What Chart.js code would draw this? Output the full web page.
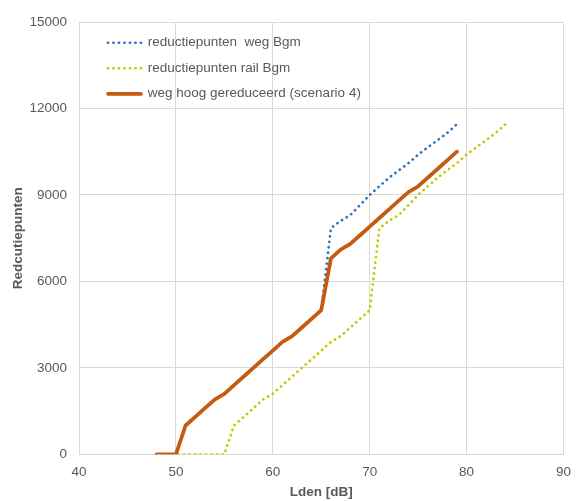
<!DOCTYPE html>
<html lang="nl">
<head>
  <meta charset="utf-8" />
  <title>Reductiepunten</title>
  <style>
    body { margin: 0; background: #fff; }
    #wrap { width: 581px; height: 501px; }
  </style>
  <script src="https://cdn.jsdelivr.net/npm/chart.js@4"></script>
</head>
<body>
  <div id="wrap"><canvas id="chart" width="581" height="501"></canvas></div>
  <script>
    // Lden [dB] waarden per reeks
    const wegLden = [48, 49, 50, 51, 52, 53, 54, 55, 56, 57, 58, 59, 60, 61, 62, 63,
                     64, 65, 66, 67, 68, 69, 70, 71, 72, 73, 74, 75, 76, 77, 78, 79];
    const railLden = [48, 49, 50, 51, 52, 53, 54, 55, 56, 57, 58, 59, 60, 61, 62, 63,
                      64, 65, 66, 67, 68, 69, 70, 71, 72, 73, 74, 75, 76, 77, 78, 79,
                      80, 81, 82, 83, 84];

    // reductiepunten
    const wegBgm = [0, 0, 0, 1000, 1300, 1600, 1900, 2100, 2400, 2700, 3000, 3300, 3600, 3900, 4100, 4400,
                    4700, 5000, 7850, 8100, 8300, 8650, 9000, 9300, 9600, 9850, 10100, 10400, 10650, 10900, 11150, 11450];
    const railBgm = [0, 0, 0, 0, 0, 0, 0, 0, 1000, 1300, 1600, 1900, 2100, 2400, 2700, 3000,
                     3300, 3600, 3900, 4100, 4400, 4700, 5000, 7850, 8100, 8300, 8650, 9000, 9300, 9600, 9850, 10100,
                     10400, 10650, 10900, 11150, 11450];
    const wegHoog = [0, 0, 0, 1000, 1300, 1600, 1900, 2100, 2400, 2700, 3000, 3300, 3600, 3900, 4100, 4400,
                     4700, 5000, 6800, 7100, 7300, 7600, 7900, 8200, 8500, 8800, 9100, 9300, 9600, 9900, 10200, 10500];

    const seriesNames = ['reductiepunten  weg Bgm', 'reductiepunten rail Bgm', 'weg hoog gereduceerd (scenario 4)'];
    const xTicks = { min: 40, max: 90, step: 10 };
    const yTicks = { min: 0, max: 15000, step: 3000 };

    const grey = '#595959';
    const gridGrey = '#D9D9D9';
    const fontFam = '"Liberation Sans", Arial, sans-serif';

    const pts = (xs, ys) => xs.map((x, i) => ({ x: x, y: ys[i] }));

    // legend zit binnen het plotvlak, iets naar rechts
    const legendShift = {
      id: 'legendShift',
      afterLayout(chart) {
        const lg = chart.legend;
        if (!lg) return;
        lg.left = chart.chartArea.left + 17;
        lg.top = chart.chartArea.top + 2;
      }
    };

    new Chart(document.getElementById('chart'), {
      type: 'line',
      data: {
        datasets: [
          {
            label: seriesNames[0],
            data: pts(wegLden, wegBgm),
            borderColor: '#2E75B6',
            backgroundColor: '#2E75B6',
            borderWidth: 2.7,
            borderDash: [0.1, 5.4],
            borderCapStyle: 'round',
            borderJoinStyle: 'round',
            pointRadius: 0,
            order: 2
          },
          {
            label: seriesNames[1],
            data: pts(railLden, railBgm),
            borderColor: '#C8C800',
            backgroundColor: '#C8C800',
            borderWidth: 2.7,
            borderDash: [0.1, 5.4],
            borderCapStyle: 'round',
            borderJoinStyle: 'round',
            pointRadius: 0,
            order: 1
          },
          {
            label: seriesNames[2],
            data: pts(wegLden, wegHoog),
            borderColor: '#C55A11',
            backgroundColor: '#C55A11',
            borderWidth: 3.75,
            borderCapStyle: 'round',
            borderJoinStyle: 'round',
            pointRadius: 0,
            order: 0
          }
        ]
      },
      options: {
        responsive: false,
        animation: false,
        layout: { padding: { left: 0, right: 14, top: 22, bottom: 0 } },
        plugins: {
          tooltip: { enabled: false },
          legend: {
            position: 'chartArea',
            align: 'start',
            labels: {
              boxWidth: 33,
              boxHeight: 0,
              padding: 12,
              color: grey,
              font: { family: fontFam, size: 13.5 },
              sort: (a, b) => a.datasetIndex - b.datasetIndex
            }
          }
        },
        scales: {
          x: {
            type: 'linear',
            min: xTicks.min,
            max: xTicks.max,
            afterFit: (s) => { s.height = 46.7; },
            ticks: { stepSize: xTicks.step, padding: 10, color: grey, font: { family: fontFam, size: 13.5 } },
            grid: { color: gridGrey, drawTicks: false },
            border: { color: gridGrey },
            title: {
              display: true, text: 'Lden [dB]', color: grey,
              font: { family: fontFam, size: 13.5, weight: 'bold' },
              padding: { top: 0, bottom: 1 }
            }
          },
          y: {
            min: yTicks.min,
            max: yTicks.max,
            afterFit: (s) => { s.width = 79; },
            ticks: {
              stepSize: yTicks.step, padding: 12, color: grey,
              font: { family: fontFam, size: 13.5 },
              callback: (v) => String(v)
            },
            grid: { color: gridGrey, drawTicks: false },
            border: { color: gridGrey },
            title: {
              display: true, text: 'Redcutiepunten', color: grey,
              font: { family: fontFam, size: 13.5, weight: 'bold' },
              padding: { top: 10, bottom: 0 }
            }
          }
        }
      },
      plugins: [legendShift]
    });
  </script>
</body>
</html>
